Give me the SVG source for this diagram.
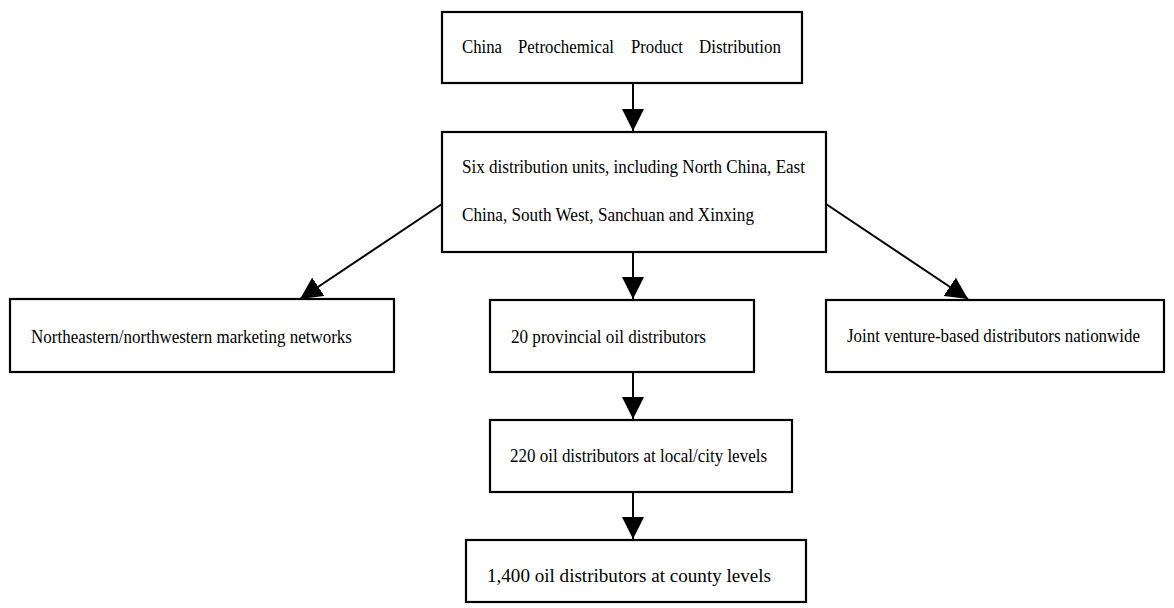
<svg xmlns="http://www.w3.org/2000/svg" width="1174" height="608" viewBox="0 0 1174 608">
<defs>
<marker id="ah" markerUnits="userSpaceOnUse" markerWidth="22" markerHeight="22" viewBox="0 0 20 20" refX="20" refY="10" orient="auto">
<path d="M0,0 L20,10 L0,20 Z" fill="#000"/>
</marker>
<style>
.box{fill:#fff;stroke:#000;stroke-width:2.2}
.t{font-family:"Liberation Serif","Times New Roman",serif;font-size:19px;fill:#000}
.c{stroke:#000;stroke-width:2;fill:none;marker-end:url(#ah)}
</style>
</defs>
<rect width="1174" height="608" fill="#fff"/>
<g id="connectors">
<line class="c" x1="633" y1="83" x2="633" y2="131"/>
<line class="c" x1="633" y1="252" x2="633" y2="299"/>
<line class="c" x1="442" y1="204" x2="300" y2="299"/>
<line class="c" x1="826" y1="204" x2="968" y2="299"/>
<line class="c" x1="633" y1="372" x2="633" y2="419"/>
<line class="c" x1="633" y1="492" x2="633" y2="539"/>
</g>
<g id="n1">
<rect class="box" x="442" y="12" width="360" height="71"/>
<text class="t" y="53"><tspan x="462" textLength="40" lengthAdjust="spacingAndGlyphs">China</tspan><tspan x="518" textLength="96" lengthAdjust="spacingAndGlyphs">Petrochemical</tspan><tspan x="631" textLength="52" lengthAdjust="spacingAndGlyphs">Product</tspan><tspan x="699" textLength="82" lengthAdjust="spacingAndGlyphs">Distribution</tspan></text>
</g>
<g id="n2">
<rect class="box" x="442" y="132" width="384" height="120"/>
<text class="t" x="462" y="173" textLength="343" lengthAdjust="spacingAndGlyphs">Six distribution units, including North China, East</text>
<text class="t" x="462" y="221" textLength="292" lengthAdjust="spacingAndGlyphs">China, South West, Sanchuan and Xinxing</text>
</g>
<g id="n3">
<rect class="box" x="10" y="299" width="384" height="73"/>
<text class="t" x="31" y="343" textLength="321" lengthAdjust="spacingAndGlyphs">Northeastern/northwestern marketing networks</text>
</g>
<g id="n4">
<rect class="box" x="490" y="300" width="264" height="72"/>
<text class="t" x="511" y="343" textLength="195" lengthAdjust="spacingAndGlyphs">20 provincial oil distributors</text>
</g>
<g id="n5">
<rect class="box" x="826" y="300" width="338" height="72"/>
<text class="t" x="847" y="342" textLength="293" lengthAdjust="spacingAndGlyphs">Joint venture-based distributors nationwide</text>
</g>
<g id="n6">
<rect class="box" x="490" y="420" width="302" height="72"/>
<text class="t" x="510" y="462" textLength="257" lengthAdjust="spacingAndGlyphs">220 oil distributors at local/city levels</text>
</g>
<g id="n7">
<rect class="box" x="466" y="540" width="340" height="62"/>
<text class="t" x="487" y="582" textLength="284" lengthAdjust="spacingAndGlyphs">1,400 oil distributors at county levels</text>
</g>
</svg>
